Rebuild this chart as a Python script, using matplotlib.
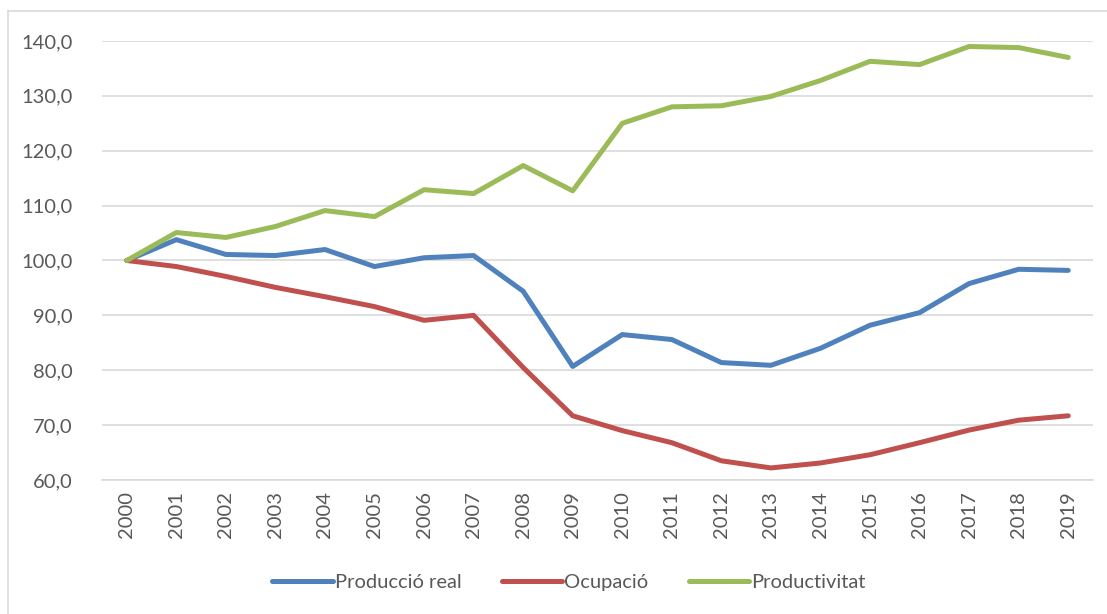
import matplotlib
matplotlib.use("Agg")
import matplotlib.pyplot as plt
from matplotlib.lines import Line2D
from matplotlib.ticker import FuncFormatter

years = [str(y) for y in range(2000, 2020)]
produccio_real = [100.0, 103.8, 101.1, 100.9, 102.0, 98.9, 100.5, 100.9, 94.4, 80.7,
                  86.5, 85.6, 81.4, 80.9, 84.0, 88.2, 90.5, 95.8, 98.4, 98.2]
ocupacio = [100.0, 98.9, 97.1, 95.1, 93.4, 91.6, 89.1, 90.0, 80.5, 71.7,
            69.0, 66.8, 63.5, 62.2, 63.1, 64.6, 66.8, 69.1, 70.9, 71.7]
productivitat = [100.0, 105.1, 104.2, 106.2, 109.1, 108.0, 112.9, 112.2, 117.3, 112.7,
                 125.0, 128.0, 128.2, 129.9, 132.8, 136.3, 135.7, 139.0, 138.8, 137.0]
series_names = ["Producció real", "Ocupació", "Productivitat"]
colors = ["#4F81BD", "#C0504D", "#9BBB59"]

plt.rcParams['font.family'] = ['Lato', 'DejaVu Sans']
text_color = "#595959"

W, H = 1107, 614
fig = plt.figure(figsize=(W / 100, H / 100), dpi=100)
ax = fig.add_axes([102 / W, 1 - 480 / H, (1093 - 102) / W, (480 - 41) / H])

x = list(range(len(years)))
for vals, c, name in zip([produccio_real, ocupacio, productivitat], colors, series_names):
    ax.plot(x, vals, color=c, lw=3.6, solid_capstyle='round', solid_joinstyle='round', label=name)

ax.set_xlim(-0.5, len(years) - 0.5)
ax.set_ylim(60, 140)
ax.set_yticks(range(60, 141, 10))
ax.yaxis.set_major_formatter(FuncFormatter(lambda v, p: f"{v:.1f}".replace('.', ',')))
ax.set_xticks(x)
ax.set_xticklabels(years, rotation=90)
ax.grid(axis='y', color='#D9D9D9', lw=1.2)
ax.set_axisbelow(True)
for s in ['top', 'right', 'left']:
    ax.spines[s].set_visible(False)
ax.spines['bottom'].set_color('#D9D9D9')
ax.spines['bottom'].set_linewidth(1.2)
ax.tick_params(axis='both', length=0, labelsize=14.5, colors=text_color)
ax.tick_params(axis='y', pad=21)
ax.tick_params(axis='x', pad=8)

handles = [Line2D([0], [0], color=c, lw=3.6, solid_capstyle='round') for c in colors]
leg = fig.legend(handles, series_names, loc='center', bbox_to_anchor=(569 / W, 1 - 582 / H),
                 ncol=3, frameon=False, fontsize=14.5, handlelength=3.0, handletextpad=0.1,
                 columnspacing=2.0)
for t in leg.get_texts():
    t.set_color(text_color)

# chart border (Excel style)
fig.add_artist(Line2D([8 / W, 8 / W], [0, 1 - 11 / H], color='#D9D9D9', lw=1.2, transform=fig.transFigure))
fig.add_artist(Line2D([8 / W, 1], [1 - 11 / H, 1 - 11 / H], color='#D9D9D9', lw=1.2, transform=fig.transFigure))

fig.savefig("out.png", dpi=100)
